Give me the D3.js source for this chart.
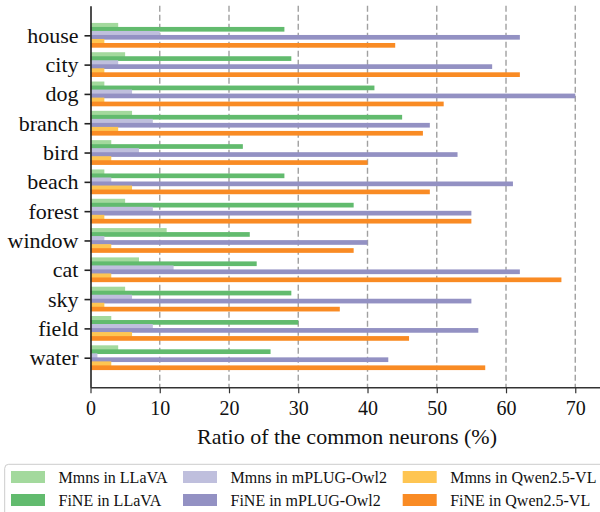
<!DOCTYPE html>
<html>
<head>
<meta charset="utf-8">
<script src="https://cdn.jsdelivr.net/npm/d3@7"></script>
<style>
  body { margin: 0; background: #fff; }
  svg text { font-family: "Liberation Serif", "Times New Roman", serif; }
</style>
</head>
<body>
<svg id="chart" width="600" height="512"></svg>
<script>
// categories, top to bottom
const categories = ["house", "city", "dog", "branch", "bird", "beach", "forest", "window", "cat", "sky", "field", "water"];

// series values (%)
const mmnsLlava  = [4, 5, 2, 6, 3, 2, 5, 11, 7, 5, 3, 4];
const fineLlava  = [28, 29, 41, 45, 22, 28, 38, 23, 24, 29, 30, 26];
const mmnsMplug  = [10, 4, 6, 9, 7, 3, 9, 2, 12, 6, 9, 1];
const fineMplug  = [62, 58, 70, 49, 53, 61, 55, 40, 62, 55, 56, 43];
const mmnsQwen   = [2, 2, 2, 4, 3, 6, 2, 3, 3, 2, 6, 3];
const fineQwen   = [44, 62, 51, 48, 40, 49, 55, 38, 68, 36, 46, 57];

const seriesNames = ["Mmns in LLaVA", "FiNE in LLaVA", "Mmns in mPLUG-Owl2", "FiNE in mPLUG-Owl2", "Mmns in Qwen2.5-VL", "FiNE in Qwen2.5-VL"];
const seriesColors = ["#a3d99d", "#62bb6e", "#bfbfdd", "#9391c3", "#fec552", "#f98b24"];
const xTicks = [0, 10, 20, 30, 40, 50, 60, 70];

const series = [mmnsLlava, fineLlava, mmnsMplug, fineMplug, mmnsQwen, fineQwen];

const FONT = '"Liberation Serif", "Times New Roman", serif';
const svg = d3.select("#chart");

// scales
const x = d3.scaleLinear().domain([0, 73.5]).range([90.5, 599.5]);
const y = d3.scaleLinear().domain([-1.01, 12.01]).range([5.7, 387.3]);

const step = 0.137, barH = 0.16;

// grid lines
svg.append("g")
  .selectAll("line")
  .data(xTicks.filter(d => d > 0))
  .enter()
  .append("line")
    .attr("x1", d => x(d)).attr("x2", d => x(d))
    .attr("y1", y(-1.01)).attr("y2", y(12.01))
    .attr("stroke", "#a0a0a0")
    .attr("stroke-width", 1.4)
    .attr("stroke-dasharray", "6,3");

// bars
series.forEach((vals, k) => {
  svg.append("g")
    .selectAll("rect")
    .data(vals)
    .enter()
    .append("rect")
      .attr("x", x(0))
      .attr("y", (d, i) => y(i + (k - 2.5) * step - barH / 2))
      .attr("width", d => x(d) - x(0))
      .attr("height", y(barH) - y(0))
      .attr("fill", seriesColors[k]);
});

// y axis
const yAxis = svg.append("g")
  .attr("transform", `translate(${x(0)},0)`)
  .call(d3.axisLeft(y).tickValues(d3.range(categories.length)).tickFormat(i => categories[i]).tickSize(6).tickPadding(6).tickSizeOuter(0));
yAxis.attr("font-family", null);
yAxis.select(".domain").attr("stroke", "#222").attr("stroke-width", 1.6);
yAxis.selectAll(".tick line").attr("stroke", "#222").attr("stroke-width", 1.6);
yAxis.selectAll("text").style("font-family", FONT).style("font-size", "22px").attr("fill", "#111");

// x axis
const xAxis = svg.append("g")
  .attr("transform", `translate(0,${y(12.01)})`)
  .call(d3.axisBottom(x).tickValues(xTicks).tickSize(6).tickPadding(8).tickSizeOuter(0));
xAxis.attr("font-family", null);
xAxis.select(".domain").attr("stroke", "#333").attr("stroke-width", 1.6);
xAxis.selectAll(".tick line").attr("stroke", "#333").attr("stroke-width", 1.2);
xAxis.selectAll("text").style("font-family", FONT).style("font-size", "20px").attr("fill", "#111");

// x label
svg.append("text")
  .attr("x", (x(0) + x(73.5)) / 2 + 2)
  .attr("y", 444)
  .attr("text-anchor", "middle")
  .style("font-family", FONT)
  .style("font-size", "22px")
  .attr("fill", "#111")
  .text("Ratio of the common neurons (%)");

// legend
svg.append("rect")
  .attr("x", 4.7).attr("y", 464.3)
  .attr("width", 620).attr("height", 70)
  .attr("rx", 4)
  .attr("fill", "#fff")
  .attr("stroke", "#cccccc")
  .attr("stroke-width", 1);

const colX = [11, 183, 402.7];
const rowY = [477, 500];
seriesNames.forEach((name, k) => {
  const col = Math.floor(k / 2), row = k % 2;
  svg.append("rect")
    .attr("x", colX[col]).attr("y", rowY[row] - 6)
    .attr("width", 34).attr("height", 12)
    .attr("fill", seriesColors[k]);
  svg.append("text")
    .attr("x", colX[col] + 47.5).attr("y", rowY[row] + 5.5)
    .style("font-family", FONT)
    .style("font-size", "16px")
    .attr("fill", "#111")
    .text(name);
});
</script>
</body>
</html>
